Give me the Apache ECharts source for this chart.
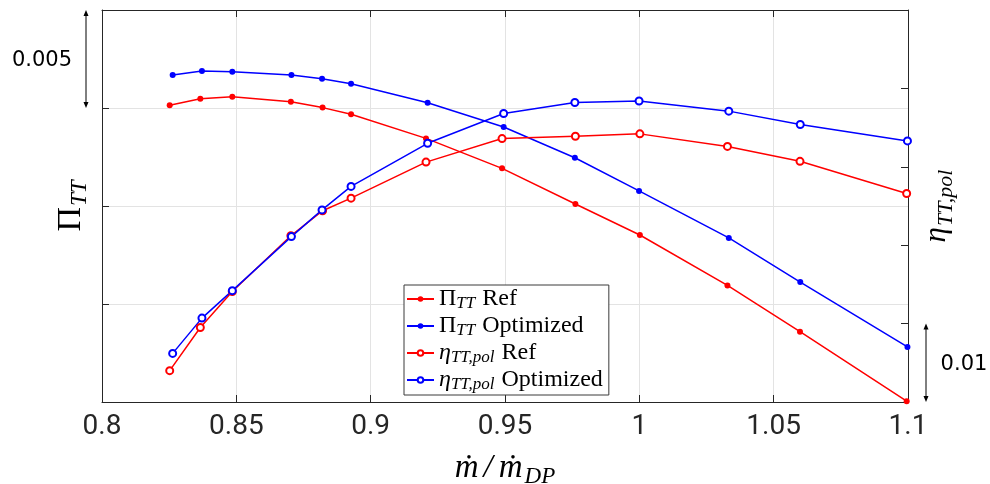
<!DOCTYPE html>
<html>
<head>
<meta charset="utf-8">
<script src="https://cdn.jsdelivr.net/npm/echarts@6/dist/echarts.min.js"></script>
<style>
html,body{margin:0;padding:0;background:#fff}
#chart{width:990px;height:484px}
</style>
</head>
<body>
<div id="chart"></div>
<script>
// mass flow ratio (x) for the two designs
const xRef = [0.8252, 0.8366, 0.8485, 0.8703, 0.8821, 0.8927, 0.9206, 0.9489, 0.9762, 1.0002, 1.0328, 1.0598, 1.0995]
const xOpt = [0.8263, 0.8372, 0.8485, 0.8705, 0.8819, 0.8927, 0.9212, 0.9495, 0.9760, 0.9999, 1.0333, 1.0599, 1.0998]
// total-to-total pressure ratio (left axis)
const piRef = [1.51514, 1.51547, 1.51558, 1.51532, 1.51502, 1.51468, 1.51345, 1.51192, 1.51010, 1.50852, 1.50595, 1.50359, 1.50004]
const piOpt = [1.51668, 1.51689, 1.51685, 1.51668, 1.51649, 1.51624, 1.51527, 1.51403, 1.51246, 1.51077, 1.50837, 1.50612, 1.50281]
// polytropic efficiency (right axis)
const etaRef = [0.8040, 0.8095, 0.8141, 0.8212, 0.8244, 0.8260, 0.8306, 0.8336, 0.8339, 0.8342, 0.8326, 0.8307, 0.8266]
const etaOpt = [0.8062, 0.8107, 0.8142, 0.8211, 0.8245, 0.8275, 0.8330, 0.8368, 0.8382, 0.8384, 0.8371, 0.8354, 0.8333]

const xRange = [0.8, 1.1, 0.05]
const piRange = [1.50, 1.52, 0.005]
const etaRange = [0.80, 0.85, 0.01]

const serif = 'Liberation Serif'
const axisColor = '#262626'
const gridColor = '#e3e3e3'

const pairs = (xs, ys) => xs.map((x, i) => [x, ys[i]])

// legend labels as rich text (subscripts)
const legendLabels = {
    piRef: '{a|Π}{s|TT}{a|Ref}',
    piOpt: '{a|Π}{s|TT}{a|Optimized}',
    etaRef: '{e|η}{s|TT,pol}{a|Ref}',
    etaOpt: '{e|η}{s|TT,pol}{a|Optimized}'
}

function lineSeries(name, xs, ys, axis, color, hollow) {
    return {
        name: name,
        type: 'line',
        yAxisIndex: axis,
        data: pairs(xs, ys),
        symbol: hollow ? 'emptyCircle' : 'circle',
        symbolSize: hollow ? 7 : 6,
        showAllSymbol: true,
        lineStyle: {color: color, width: 1.5},
        itemStyle: {color: color, borderColor: color, borderWidth: hollow ? 1.3 : 0},
        emphasis: {disabled: true},
        animation: false,
        z: hollow ? 3 : 2
    }
}

const valueAxisCommon = {
    type: 'value',
    axisLine: {show: true, lineStyle: {color: axisColor, width: 1}},
    axisTick: {show: true, inside: true, length: 7, lineStyle: {color: axisColor}},
    axisLabel: {show: false},
    splitLine: {show: false}
}

let option = {
    backgroundColor: '#fff',
    animation: false,
    grid: {left: 102, right: 82, top: 10, bottom: 82, outerBoundsMode: 'none'},
    legend: {
        orient: 'vertical',
        left: 404,
        top: 285,
        itemWidth: 27,
        itemHeight: 7,
        itemGap: 1,
        padding: [1, 6, 2, 2],
        backgroundColor: '#fff',
        borderColor: '#3a3a3a',
        borderWidth: 1,
        borderRadius: 0,
        selectedMode: false,
        data: ['piRef', 'piOpt', 'etaRef', 'etaOpt'],
        formatter: name => legendLabels[name],
        textStyle: {
            color: '#000',
            rich: {
                a: {fontFamily: serif, fontSize: 24, lineHeight: 26, color: '#000'},
                e: {fontFamily: serif, fontStyle: 'italic', fontSize: 24, lineHeight: 26, color: '#000'},
                s: {fontFamily: serif, fontStyle: 'italic', fontSize: 17, lineHeight: 26, color: '#000',
                    verticalAlign: 'top', padding: [9, 7, 0, 0]}
            }
        }
    },
    xAxis: [
        Object.assign({}, valueAxisCommon, {
            position: 'bottom',
            min: xRange[0], max: xRange[1], interval: xRange[2],
            axisLabel: {show: true, margin: 11, color: axisColor, fontFamily: 'Roboto', fontSize: 28},
            splitLine: {show: true, lineStyle: {color: gridColor, width: 1}},
            name: '{m|ṁ}{sl|/}{m|ṁ}{s|DP}',
            nameLocation: 'middle',
            nameGap: 48,
            nameTextStyle: {
                rich: {
                    m: {fontFamily: serif, fontStyle: 'italic', fontSize: 33, lineHeight: 36, color: '#000'},
                    sl: {fontFamily: serif, fontStyle: 'italic', fontSize: 33, lineHeight: 36, color: '#000', padding: [0, 6, 0, 5]},
                    s: {fontFamily: serif, fontStyle: 'italic', fontSize: 23, lineHeight: 36, color: '#000',
                        verticalAlign: 'top', padding: [15, 0, 0, 2]}
                }
            }
        }),
        Object.assign({}, valueAxisCommon, {
            position: 'top',
            min: xRange[0], max: xRange[1], interval: xRange[2]
        })
    ],
    yAxis: [
        Object.assign({}, valueAxisCommon, {
            position: 'left',
            min: piRange[0], max: piRange[1], interval: piRange[2],
            splitLine: {show: true, lineStyle: {color: gridColor, width: 1}},
            name: '{p|Π}{s|TT}',
            nameLocation: 'middle',
            nameRotate: 90,
            nameGap: 12,
            nameTextStyle: {
                rich: {
                    p: {fontFamily: serif, fontSize: 34, lineHeight: 38, color: '#000'},
                    s: {fontFamily: serif, fontStyle: 'italic', fontSize: 23, lineHeight: 38, color: '#000',
                        verticalAlign: 'top', padding: [16, 0, 0, 1]}
                }
            }
        }),
        Object.assign({}, valueAxisCommon, {
            position: 'right',
            min: etaRange[0], max: etaRange[1], interval: etaRange[2],
            name: '{e|η}{s|TT,pol}',
            nameLocation: 'middle',
            nameRotate: 90,
            nameGap: 12,
            nameTextStyle: {
                rich: {
                    e: {fontFamily: serif, fontStyle: 'italic', fontSize: 31, lineHeight: 34, color: '#000'},
                    s: {fontFamily: serif, fontStyle: 'italic', fontSize: 22, lineHeight: 34, color: '#000',
                        verticalAlign: 'top', padding: [15, 0, 0, 1]}
                }
            }
        })
    ],
    series: [
        lineSeries('piRef', xRef, piRef, 0, '#ff0000', false),
        lineSeries('piOpt', xOpt, piOpt, 0, '#0000ff', false),
        lineSeries('etaRef', xRef, etaRef, 1, '#ff0000', true),
        lineSeries('etaOpt', xOpt, etaOpt, 1, '#0000ff', true)
    ]
}

let dom = document.getElementById('chart')
let chart = echarts.init(dom, null, {renderer: 'canvas'})
chart.setOption(option)

// scale-bar arrows beside the axes (one tick interval each)
function arrow(x, y1, y2) {
    return [
        {type: 'line', shape: {x1: x, y1: y1 + 3, x2: x, y2: y2 - 3}, style: {stroke: '#000', lineWidth: 1}},
        {type: 'polygon', shape: {points: [[x, y1], [x - 2.5, y1 + 6], [x + 2.5, y1 + 6]]}, style: {fill: '#000'}},
        {type: 'polygon', shape: {points: [[x, y2], [x - 2.5, y2 - 6], [x + 2.5, y2 - 6]]}, style: {fill: '#000'}}
    ]
}
const piTop = chart.convertToPixel({yAxisIndex: 0}, piRange[1])
const piStep = chart.convertToPixel({yAxisIndex: 0}, piRange[1] - piRange[2])
const etaBot = chart.convertToPixel({yAxisIndex: 1}, etaRange[0])
const etaStep = chart.convertToPixel({yAxisIndex: 1}, etaRange[0] + etaRange[2])

chart.setOption({
    graphic: [
        ...arrow(86, piTop, piStep),
        {type: 'text', x: 42, y: (piTop + piStep) / 2 + 2,
            style: {text: '0.005', fontFamily: 'DejaVu Sans', fontSize: 21, fill: '#000', align: 'center', verticalAlign: 'middle'}},
        ...arrow(926, etaStep, etaBot),
        {type: 'text', x: 964, y: (etaStep + etaBot) / 2 + 2,
            style: {text: '0.01', fontFamily: 'DejaVu Sans', fontSize: 21, fill: '#000', align: 'center', verticalAlign: 'middle'}}
    ]
})
</script>
</body>
</html>
